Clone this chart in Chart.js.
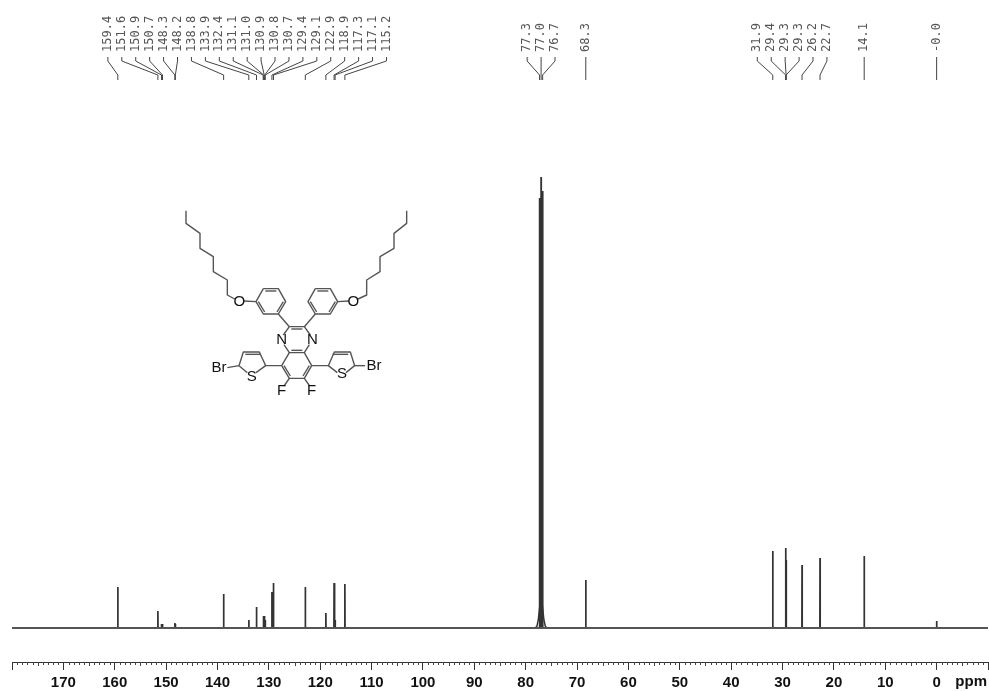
<!DOCTYPE html>
<html>
<head>
<meta charset="utf-8">
<style>html,body{margin:0;padding:0;background:#fff;overflow:hidden}canvas{display:block}</style>
<script src="https://cdn.jsdelivr.net/npm/chart.js@4"></script>
</head>
<body>
<canvas id="c" width="989" height="691"></canvas>
<script>
// Peak labels as printed above the spectrum, in printed order
const peakLabels = ["159.4","151.6","150.9","150.7","148.3","148.2","138.8","133.9","132.4","131.1","131.0","130.9","130.8","130.7","129.4","129.1","122.9","118.9","117.3","117.1","115.2","77.3","77.0","76.7","68.3","31.9","29.4","29.3","29.3","26.2","22.7","14.1","-0.0"];
// Peak heights above the baseline (arbitrary intensity)
const peakHeights = [41,17,4,4,5,4,34,8,21,12,12,12,8,8,36,45,41,15,45,8,44,430,451,437,48,77,80,68,68,63,70,72,7];
// Broad foot under the solvent triplet: ppm and height
const footPpm = [78.1,77.8,77.55,77.0,76.45,76.2,75.9];
const footHeight = [0,2,8,34,8,2,0];
// Number of consecutive labels fanned out together
const labelGroups = [21,3,1,6,1,1];
const tickLabelPpm = "ppm";

const MIN_PPM = -10, MAX_PPM = 180;
const ppmValues = peakLabels.map(Number);

// Spectrum: every peak is a thin triangle standing on the baseline
const order = ppmValues.map((p,i)=>i).sort((a,b)=>ppmValues[b]-ppmValues[a]);
const peakLine = [];
order.forEach(i=>{
  peakLine.push({x:ppmValues[i]+0.03,y:0},{x:ppmValues[i],y:peakHeights[i]},{x:ppmValues[i]-0.03,y:0});
});
const baseLine = [{x:MAX_PPM,y:0},{x:MIN_PPM,y:0}];
const footLine = footPpm.map((p,i)=>({x:p,y:footHeight[i]}));

const peakAnnotations = {
  id:'peakAnnotations',
  afterDraw(chart){
    const ctx=chart.ctx, xs=chart.scales.x, spacing=13.93;
    let start=0;
    ctx.save();
    ctx.lineWidth=1; ctx.strokeStyle='#444'; ctx.fillStyle='#555';
    ctx.font='12px "DejaVu Sans Mono"';
    labelGroups.forEach(n=>{
      const grp=ppmValues.slice(start,start+n);
      const mean=grp.reduce((a,b)=>a+b,0)/n;
      const cx=xs.getPixelForValue(mean);
      grp.forEach((p,k)=>{
        const lx=cx+(k-(n-1)/2)*spacing, px=xs.getPixelForValue(p);
        ctx.beginPath();
        ctx.moveTo(lx,57);ctx.lineTo(lx,61);ctx.lineTo(px,75);ctx.lineTo(px,80);
        ctx.stroke();
        ctx.save();
        ctx.translate(lx,52);ctx.rotate(-Math.PI/2);
        ctx.textAlign='left';ctx.textBaseline='middle';
        ctx.fillText(peakLabels[start+k],0,0);
        ctx.restore();
      });
      start+=n;
    });
    // minor ticks of the ppm ruler
    const yb=chart.chartArea.bottom;
    ctx.strokeStyle='#444';
    for(let v=MIN_PPM;v<=MAX_PPM;v++){
      if(v%10===0)continue;
      const x=Math.round(xs.getPixelForValue(v))+0.5;
      ctx.beginPath();ctx.moveTo(x,yb);ctx.lineTo(x,yb+(v%5===0?4:3));ctx.stroke();
    }
    ctx.fillStyle='#111';
    ctx.font='bold 15px "Liberation Sans"';
    ctx.textAlign='right';ctx.textBaseline='middle';
    ctx.fillText(tickLabelPpm,987,682);
    ctx.restore();
  }
};

// Inset structure drawing (in its own local units)
const bondPaths = [
 [[48,32],[48,70],[90,100],[90,145],[130,170],[130,215],[172,240],[172,285],[194,297]],
 [[222,303],[258,305]],
 [[280,266],[325,266],[347,305],[325,342],[280,342],[258,305],[280,266]],
 [[325,342],[358,380]],
 [[358,380],[403,380],[421,405]],[[358,380],[340,405]],
 [[342,434],[358,458],[403,458],[418,434]],
 [[358,458],[335,497],[358,535],[403,535],[425,497],[403,458]],
 [[403,380],[436,342]],
 [[436,266],[481,266],[503,305],[481,342],[436,342],[414,305],[436,266]],
 [[503,305],[537,303]],
 [[564,297],[590,285],[590,240],[630,215],[630,170],[672,145],[672,100],[710,70],[710,32]],
 [[335,497],[287,497],[268,456],[220,456],[207,497],[232,518]],[[258,518],[287,497]],
 [[172,503],[207,497]],
 [[425,497],[475,497],[493,456],[541,456],[554,497],[528,518]],[[502,518],[475,497]],
 [[554,497],[585,497]],
 [[358,535],[342,558]],[[403,535],[419,558]]
];
const doubleBonds = [
 [[286,273],[319,273]],[[340,305],[321,336]],[[265,305],[284,336]],
 [[442,273],[475,273]],[[496,305],[477,336]],[[421,305],[440,336]],
 [[364,387],[397,387]],[[364,451],[397,451]],
 [[342,497],[361,528]],[[418,497],[399,528]],
 [[273,463],[226,463]],[[488,463],[535,463]]
];
const atomLabels = [["O",208,306],["O",550,306],["N",335,420],["N",427,420],["S",245,530],["S",516,522],["Br",147,503],["Br",612,497],["F",335,573],["F",425,573]];

const structure = {
  id:'structure',
  afterDraw(chart){
    const c=chart.ctx, X=v=>170+v/3, Y=v=>200+v/3;
    c.save();
    c.strokeStyle='#555'; c.lineWidth=1.4; c.lineJoin='round';
    [...bondPaths,...doubleBonds].forEach(path=>{
      c.beginPath();
      path.forEach((p,i)=> i?c.lineTo(X(p[0]),Y(p[1])):c.moveTo(X(p[0]),Y(p[1])));
      c.stroke();
    });
    c.fillStyle='#111';c.font='15px "Liberation Sans"';c.textAlign='center';c.textBaseline='middle';
    atomLabels.forEach(a=>c.fillText(a[0],X(a[1]),Y(a[2])));
    c.restore();
  }
};

new Chart(document.getElementById('c'),{
  type:'scatter',
  data:{datasets:[
    {data:baseLine,showLine:true,borderColor:'#555',borderWidth:2,pointRadius:0,tension:0,fill:false},
    {data:footLine,showLine:true,borderColor:'#333',borderWidth:1.5,pointRadius:0,tension:0,fill:false},
    {data:peakLine,showLine:true,borderColor:'#333',borderWidth:1.7,pointRadius:0,tension:0,fill:false}
  ]},
  options:{
    responsive:false,animation:false,
    layout:{padding:{left:12,right:1,top:0,bottom:0}},
    plugins:{legend:{display:false},tooltip:{enabled:false},title:{display:false}},
    scales:{
      x:{type:'linear',reverse:true,min:MIN_PPM,max:MAX_PPM,
        afterFit(s){s.height=29;s.paddingLeft=0;s.paddingRight=0;},
        border:{display:true,color:'#333',width:1},
        grid:{drawOnChartArea:false,drawTicks:true,tickLength:8,color:'#333'},
        ticks:{stepSize:10,autoSkip:false,maxRotation:0,padding:4,color:'#111',
          font:{family:'"Liberation Sans"',size:15,weight:'bold'},
          callback:v=>(v===MIN_PPM||v===MAX_PPM)?'':String(v)}},
      y:{display:false,min:-34,max:628}
    }
  },
  plugins:[peakAnnotations,structure]
});
</script>
</body>
</html>
